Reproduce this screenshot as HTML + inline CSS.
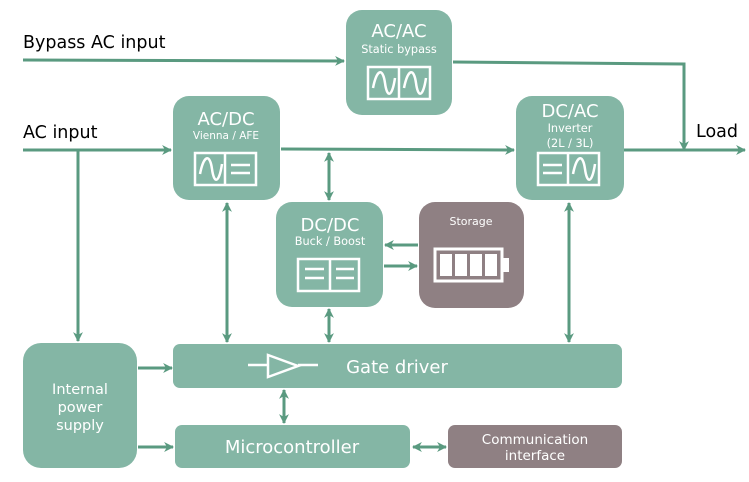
<!DOCTYPE html>
<html><head><meta charset="utf-8"><style>
html,body{margin:0;padding:0;background:#fff;}
svg{display:block;}
text{font-family:"DejaVu Sans","Liberation Sans",sans-serif;}
</style></head><body>
<svg width="749" height="482" viewBox="0 0 749 482" xmlns="http://www.w3.org/2000/svg">
<defs>
<marker id="a" viewBox="0 0 10 10" refX="9" refY="5" markerWidth="3.3" markerHeight="3.3" orient="auto-start-reverse">
<path d="M0,0 L10,5 L0,10 L3,5 z" fill="#5a9a80"/></marker>
</defs>
<g fill="#84b6a5">
<rect x="346" y="10" width="106" height="105" rx="16"/>
<rect x="173" y="96" width="107" height="104" rx="16"/>
<rect x="516" y="96" width="108" height="104" rx="16"/>
<rect x="276" y="202" width="107" height="105" rx="16"/>
<rect x="173" y="344" width="449" height="44" rx="7"/>
<rect x="23" y="343" width="114" height="125" rx="18"/>
<rect x="175" y="425" width="235" height="43" rx="7"/>
</g>
<rect x="419" y="202" width="105" height="106" rx="16" fill="#8f8083"/>
<rect x="448" y="425" width="174" height="43" rx="7" fill="#8f8083"/>
<g stroke="#5a9a80" stroke-width="3" fill="none">
<line x1="23" y1="60" x2="344" y2="61" marker-end="url(#a)"/>
<polyline points="453,62 684,64 684,150" marker-end="url(#a)"/>
<line x1="23" y1="150" x2="171" y2="150" marker-end="url(#a)"/>
<line x1="281" y1="149" x2="514" y2="150" marker-end="url(#a)"/>
<line x1="624" y1="150" x2="745" y2="150" marker-end="url(#a)"/>
<line x1="78" y1="150" x2="78" y2="341" marker-end="url(#a)"/>
<line x1="329" y1="153" x2="329" y2="200" marker-start="url(#a)" marker-end="url(#a)"/>
<line x1="329" y1="309" x2="329" y2="342" marker-start="url(#a)" marker-end="url(#a)"/>
<line x1="227" y1="203" x2="227" y2="342" marker-start="url(#a)" marker-end="url(#a)"/>
<line x1="569" y1="203" x2="569" y2="342" marker-start="url(#a)" marker-end="url(#a)"/>
<line x1="418" y1="245" x2="385" y2="245" marker-end="url(#a)"/>
<line x1="384" y1="266" x2="417" y2="266" marker-end="url(#a)"/>
<line x1="284" y1="390" x2="284" y2="423" marker-start="url(#a)" marker-end="url(#a)"/>
<line x1="138" y1="368" x2="172" y2="368" marker-end="url(#a)"/>
<line x1="138" y1="447" x2="173" y2="447" marker-end="url(#a)"/>
<line x1="413" y1="447" x2="446" y2="447" marker-start="url(#a)" marker-end="url(#a)"/>
</g>
<g stroke="#fff" stroke-width="2.5" fill="none">
<rect x="368" y="67" width="62" height="32"/><line x1="399" y1="67" x2="399" y2="99"/>
<path d="M373,88 C377,68 383,68 385,83 C387,98 392,98 395,78"/>
<path d="M404,88 C408,68 414,68 416,83 C418,98 423,98 426,78"/>
<rect x="195" y="153" width="61" height="32"/><line x1="225" y1="153" x2="225" y2="185"/>
<path d="M200,174 C204,154 210,154 212,169 C214,184 219,184 222,164"/>
<line x1="231" y1="165" x2="250" y2="165"/><line x1="231" y1="173" x2="250" y2="173"/>
<rect x="538" y="153" width="61" height="32"/><line x1="568" y1="153" x2="568" y2="185"/>
<line x1="543" y1="165" x2="562" y2="165"/><line x1="543" y1="173" x2="562" y2="173"/>
<path d="M573,174 C577,154 583,154 585,169 C587,184 592,184 595,164"/>
<rect x="298" y="259" width="61" height="32"/><line x1="330" y1="259" x2="330" y2="291"/>
<line x1="305" y1="269" x2="324" y2="269"/><line x1="305" y1="278" x2="324" y2="278"/>
<line x1="336" y1="269" x2="354" y2="269"/><line x1="336" y1="278" x2="354" y2="278"/>
<rect x="435" y="249" width="67" height="32" stroke-width="3"/>
<line x1="248" y1="365" x2="268" y2="365"/><path d="M268,355 L268,377 L298,366 Z"/><line x1="298" y1="365" x2="318" y2="365"/>
</g>
<g fill="#fff">
<rect x="440" y="254" width="12" height="22"/><rect x="455" y="254" width="12" height="22"/><rect x="470" y="254" width="12" height="22"/><rect x="485" y="254" width="12" height="22"/>
<rect x="503" y="258" width="6" height="14"/>
</g>
<g fill="#fff" text-anchor="middle">
<text x="399" y="37" font-size="18">AC/AC</text>
<text x="399" y="53" font-size="11.3">Static bypass</text>
<text x="226" y="125" font-size="18">AC/DC</text>
<text x="226" y="139" font-size="10.5">Vienna / AFE</text>
<text x="570" y="117" font-size="18">DC/AC</text>
<text x="570" y="132" font-size="11.3">Inverter</text>
<text x="570" y="147" font-size="11.3">(2L / 3L)</text>
<text x="330" y="231" font-size="18">DC/DC</text>
<text x="330" y="245" font-size="11.3">Buck / Boost</text>
<text x="471" y="225" font-size="11">Storage</text>
<text x="397" y="373" font-size="18">Gate driver</text>
<text x="80" y="394" font-size="14.5">Internal</text>
<text x="80" y="412" font-size="14.5">power</text>
<text x="80" y="430" font-size="14.5">supply</text>
<text x="292" y="453" font-size="18">Microcontroller</text>
<text x="535" y="444" font-size="13.5">Communication</text>
<text x="535" y="460" font-size="13.5">interface</text>
</g>
<g fill="#000" font-size="17.5">
<text x="23" y="48">Bypass AC input</text>
<text x="23" y="138">AC input</text>
<text x="696" y="137">Load</text>
</g>
</svg>
</body></html>
